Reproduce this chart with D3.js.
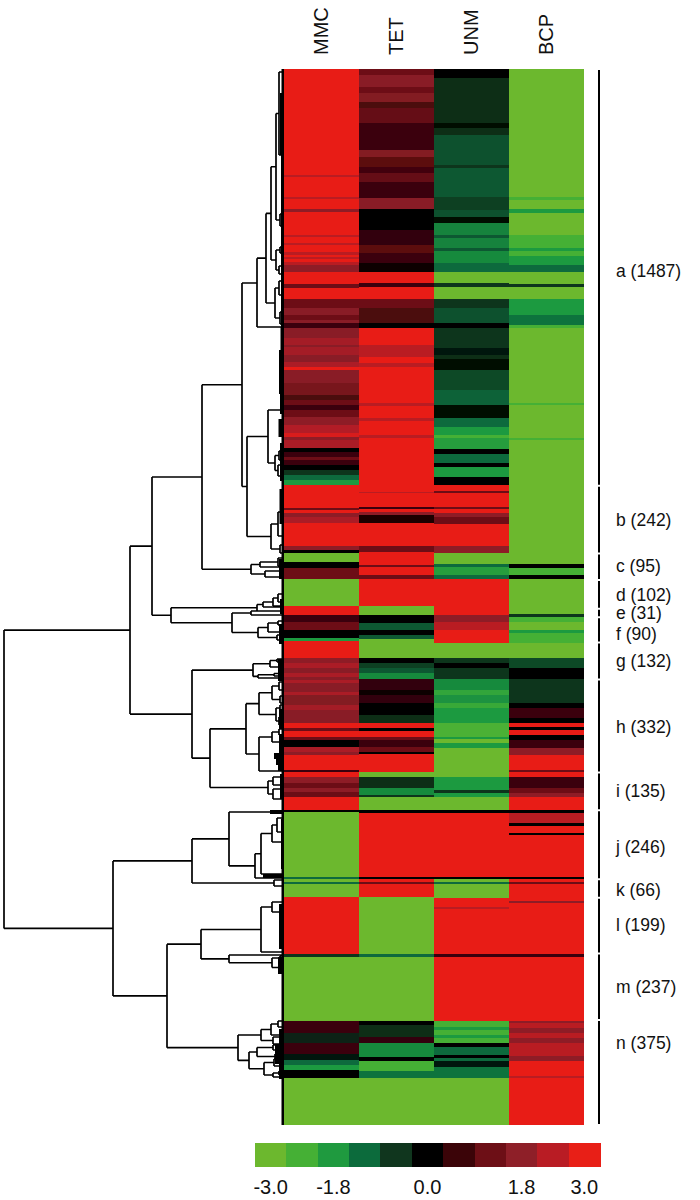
<!DOCTYPE html>
<html>
<head>
<meta charset="utf-8">
<style>
html, body { margin: 0; padding: 0; background: #fff; }
svg { display: block; }
text { font-family: "Liberation Sans", Arial, sans-serif; fill: #111; }
.axis .domain { display: none; }
</style>
</head>
<body>
<svg width="700" height="1200"></svg>
<script src="https://d3js.org/d3.v7.min.js"></script>
<script>
var samples = ["MMC", "TET", "UNM", "BCP"];

// heatmap columns, run length coded: [last row of the run, log ratio]
var mmcRuns = [[106,3],[108,2.4],[128,3],[130,2.4],[140,3],[143,1.8],[166,3],[168,2.4],[174,3],[176,2.4],[183,3],[186,2.4],[188,3],[190,2.4],[193,3],[196,2.4],[203,1.8],[215,3],[219,1.2],[230,3],[239,1.2],[246,1.7],[251,1.2],[254,1.7],[259,0.6],[269,1.7],[276,2.1],[278,1.7],[286,2.1],[293,1.7],[298,2.2],[301,3],[314,1.7],[326,1.4],[331,0.8],[336,1.2],[341,0.6],[348,1.2],[356,1.8],[364,2.3],[368,2.8],[371,1.8],[379,2.2],[383,0],[388,0.6],[391,1.2],[396,0.6],[401,0],[406,-0.6],[411,-1.2],[416,-1.8],[439,3],[441,1.2],[444,3],[448,1.8],[454,2.2],[477,3],[481,1.8],[484,0],[493,-3],[499,0],[510,1.2],[537,-3],[546,3],[553,0.6],[561,1.2],[569,0],[572,-1.8],[589,3],[594,1.8],[599,2.2],[604,1.7],[608,2.2],[611,1.7],[614,2.2],[623,1.7],[626,2.2],[636,1.6],[641,2.1],[654,1.7],[659,3],[662,1.2],[668,3],[671,1.2],[678,0],[683,2.2],[686,1.8],[701,3],[703,0.6],[708,3],[714,1.8],[719,1.2],[723,1.8],[728,1.2],[741,3],[743,0],[808,-3],[810,-1.2],[813,-3],[815,-1.2],[828,-3],[885,3],[888,-0.6],[952,-3],[964,0.6],[974,-0.4],[985,0.6],[991,-0.2],[996,-1.2],[1001,-1.8],[1009,0],[1056,-3]];
var tetRuns = [[6,1.2],[18,1.7],[24,1.2],[33,1.6],[39,0.8],[54,1.1],[81,0.6],[88,1.6],[98,1.0],[104,0.7],[113,1.1],[129,0.6],[140,1.7],[161,0],[176,0.5],[184,1.0],[194,0.6],[203,0.1],[214,3],[218,0.6],[230,3],[239,1.2],[254,0.8],[259,0],[276,3],[288,2.4],[294,3],[298,2.4],[334,3],[337,2.4],[349,3],[352,2.4],[366,3],[369,2.4],[423,3],[424,2.4],[438,3],[440,0.6],[443,3],[446,1.8],[454,0.3],[477,3],[483,1.2],[496,3],[498,1.2],[506,3],[510,1.2],[537,3],[546,-3],[554,0],[561,-1.0],[566,0],[570,-1.0],[589,-3],[594,0],[599,-0.7],[604,-1.0],[610,-1.6],[621,0.5],[626,0.1],[634,0.5],[646,0],[654,-0.5],[659,3],[662,0],[668,3],[671,1.2],[678,0.6],[683,1.2],[685,0],[703,3],[708,-3],[719,-0.5],[726,-1.6],[728,-0.6],[741,-3],[744,0],[808,3],[810,0],[813,3],[815,1.2],[828,3],[885,-3],[888,-1.2],[952,-3],[956,0],[968,-0.5],[974,0.5],[988,-1.6],[992,0],[1002,-2.4],[1009,-1.3],[1056,-3]];
var unmRuns = [[9,0],[54,-0.5],[59,-0.1],[66,-0.5],[96,-0.9],[99,-0.6],[128,-1.0],[141,-0.7],[148,-0.9],[154,-0.1],[166,-1.5],[169,-1.0],[179,-1.5],[182,-1.0],[194,-1.6],[203,-1.2],[214,-3],[218,-0.6],[230,-3],[239,-0.6],[254,-0.9],[259,0],[279,-0.6],[286,-0.2],[290,-0.5],[301,-0.1],[321,-0.8],[336,-1.1],[349,-0.1],[358,-1.2],[366,-1.8],[369,-2.4],[380,-1.9],[385,0],[394,-1.2],[398,0],[408,-1.8],[416,0],[422,3],[424,1.2],[438,3],[440,1.2],[444,3],[448,1.8],[455,1.2],[477,3],[484,1.8],[495,-3],[498,-1.2],[506,-1.9],[510,-1.2],[546,3],[553,1.8],[561,2.4],[574,3],[589,-3],[594,-0.6],[599,0],[610,-0.6],[621,-1.6],[626,-2.1],[634,-1.7],[639,-2.2],[654,-1.8],[668,-2.5],[670,-1.8],[674,-3],[679,-1.8],[708,-3],[721,-1.8],[724,-0.6],[728,-1.8],[741,-3],[744,0],[808,3],[810,0],[813,-3],[815,-1.2],[829,-3],[838,3],[840,2.4],[885,3],[888,0.6],[952,3],[958,-2.4],[961,-1.8],[966,-2.4],[969,-1.8],[974,-2.4],[978,0],[986,-1.2],[989,0],[992,-1.2],[998,-0.2],[1009,-1.3],[1056,-3]];
var bcpRuns = [[128,-3],[131,-2.4],[140,-3],[144,-1.8],[166,-3],[179,-2.4],[182,-1.8],[187,-2.4],[196,-1.8],[203,-1.2],[215,-3],[218,-0.6],[230,-3],[246,-1.8],[256,-1.3],[259,-2.4],[334,-3],[336,-2.4],[369,-3],[371,-2.4],[495,-3],[499,0],[506,-2.4],[510,0],[545,-3],[548,-0.6],[553,-2.4],[561,-3],[564,-1.8],[574,-2.4],[589,-3],[599,-0.8],[610,0],[634,-0.6],[639,0],[649,0.6],[654,0],[658,3],[661,0],[666,3],[671,0],[679,0.6],[686,1.8],[701,3],[703,1.2],[708,3],[719,0.6],[724,1.2],[728,1.8],[741,3],[744,0],[754,2.4],[757,0],[764,3],[766,0],[808,3],[810,0],[813,3],[815,1.2],[832,3],[834,1.8],[885,3],[888,0.6],[952,3],[954,1.8],[959,2.4],[964,1.8],[969,2.4],[974,1.8],[979,2.4],[987,2.4],[992,1.8],[1007,3],[1009,2.4],[1056,3]];
var sampleRuns = [mmcRuns, tetRuns, unmRuns, bcpRuns];
var totalRows = 1056;

var clusterNames = ["a","b","c","d","e","f","g","h","i","j","k","l","m","n"];
var clusterCounts = [1487,242,95,102,31,90,132,332,135,246,66,199,237,375];
// row each cluster label sits at (not always the middle of the cluster)
var clusterLabelRows = [202,451,497,526,544,565,592,658,722,778,821,856,918,974];

var levels = [-3,-2.4,-1.8,-1.2,-0.6,0,0.6,1.2,1.8,2.4,3];
var levelColors = ["#6cb82e","#45b035","#1f9a3f","#0c6b3c","#10361e","#000000","#3b0408","#6d0f16","#8e1f28","#b91c24","#e81f17"];
var legendTicks = {"-3":"-3.0","-1.8":"-1.8","0":"0.0","1.8":"1.8","3":"3.0"};

// dendrogram: [merge distance, child, child, optional row of the node],
// a plain number is a leaf row
var treeTop = [26,
  [17,
    [12,
      [7, [4,3,86], [3,145,157]],
      [7, [3,178,184], [4,197,205]]],
    [8, [4,212,226], [3,243,255]]],
  258, 214];
var treeMid = [36,
  [15, 341, [8, [4,382,391], [5,396,407]]],
  [12, [5,443,467], [3,476,484]]];
var treeC = [32, [23, [5,489,497], 498], [18,502,508]];
var treeDF = [112,
  [26, [20, [10, [5,525,533], 537], 538], 542],
  [51, [32,542,546], [25, [15, [5,552,556], 563], [6,566,571]]]];
var treeG = [30, [13, [6,590,593], 598], [25, [9, [4,603,606], 607], 609]];
var treeHI = [73,
  [37,
    [24, [11, [4,613,621], [3,627,634]], [7, [3,636,642], [4,648,656]]],
    [24, [11, [4,660,666], [3,670,676]], 702]],
  [15, [10,708,716], [10,720,730]]];
var treeJK = [91,
  [54, 743, [28, [22, [11, [6,749,763], 773], 805], 809]],
  [9,811,817]];
var treeLM = [82,
  [22, [11,833,843], 883],
  [54, 886, [11, [3,887,891], [4,895,902]]]];
var treeN = [45,
  [22, [12, [5,952,958], 966], [10,968,975]],
  [34, [26, [10,976,981], [8,985,990]], [19, [9,990,997], [10, [4,1002,1006], 1008]]]];

var tree = [279,
  [153,
    [131, [81, [41, treeTop, treeMid], treeC], treeDF],
    [91, treeG, treeHI]],
  [170,
    treeJK,
    [116, treeLM, treeN]]];

// stretches too dense to draw leaf by leaf: [first row, last row, depth]
var denseClades = [[0,1056,1.5],[24,86,3],[86,258,2],[258,300,2.5],[281,325,4],[325,345,3],[350,368,4.5],[374,412,3],[420,455,3.5],[490,510,4],[530,545,3],[555,575,4],[590,612,5],[640,660,4],[665,684,4],[684,690,9],[690,696,7],[696,702,5],[705,730,3],[741,745,13],[750,800,2],[805,809,20],[835,880,4],[888,905,5],[960,975,4],[975,995,8],[995,1010,4]];

var svg = d3.select("svg");

var x = d3.scaleBand().domain(samples).range([284, 584]);
var y = d3.scaleLinear().domain([0, totalRows]).range([69, 1125]);
var yGene = d3.scaleLinear().domain([0, d3.sum(clusterCounts)]).range([69, 1125]);
var xDist = d3.scaleLinear().domain([0, 279]).range([283, 4]);
var color = d3.scaleLinear().domain(levels).range(levelColors);

// the rows are much thinner than a pixel in the print, soften them a little
var soft = svg.append("defs").append("filter")
  .attr("id", "soft")
  .attr("filterUnits", "userSpaceOnUse")
  .attr("x", 284).attr("y", 69).attr("width", 300).attr("height", 1056);
soft.append("feGaussianBlur")
  .attr("stdDeviation", "0.3 0.7")
  .attr("edgeMode", "duplicate");

// heatmap
svg.append("g").attr("shape-rendering", "crispEdges").attr("filter", "url(#soft)")
  .selectAll("g")
  .data(samples)
  .enter().append("g")
  .each(function(name, i) {
    var start = 0;
    d3.select(this).selectAll("rect")
      .data(sampleRuns[i].map(function(r) {
        var o = {from: start, to: r[0], value: r[1]};
        start = r[0];
        return o;
      }))
      .enter().append("rect")
      .attr("x", x(name))
      .attr("width", x.bandwidth())
      .attr("y", function(d) { return y(d.from); })
      .attr("height", function(d) { return y(d.to) - y(d.from); })
      .attr("fill", function(d) { return color(d.value); });
  });

svg.append("g")
  .selectAll("text")
  .data(samples)
  .enter().append("text")
  .attr("transform", function(d) {
    return "translate(" + (x(d) + x.bandwidth() / 2 + 6.5) + ",55) rotate(-90)";
  })
  .attr("font-size", 20)
  .text(function(d) { return d; });

// dendrogram
var root = d3.hierarchy(tree, function(d) { return Array.isArray(d) ? d.slice(1, 3) : null; });
root.eachAfter(function(n) {
  n.dist = Array.isArray(n.data) ? n.data[0] : 0;
  if (!n.children) n.row = n.data;
  else if (n.data[3] !== undefined) n.row = n.data[3];
  else n.row = d3.mean(n.children, function(c) { return c.row; });
});

var p = d3.path();
root.each(function(n) {
  if (!n.children) return;
  p.moveTo(xDist(n.dist), y(n.children[0].row));
  p.lineTo(xDist(n.dist), y(n.children[1].row));
  n.children.forEach(function(c) {
    p.moveTo(xDist(n.dist), y(c.row));
    p.lineTo(xDist(c.dist), y(c.row));
  });
});
svg.append("path")
  .attr("d", p.toString())
  .attr("fill", "none")
  .attr("stroke", "#000")
  .attr("stroke-width", 1.7);

svg.append("g")
  .selectAll("rect")
  .data(denseClades)
  .enter().append("rect")
  .attr("x", function(d) { return xDist(d[2]); })
  .attr("width", function(d) { return xDist(0) - xDist(d[2]) + 1; })
  .attr("y", function(d) { return y(d[0]); })
  .attr("height", function(d) { return y(d[1]) - y(d[0]); })
  .attr("fill", "#000");

// cluster brackets
var clusters = [], sofar = 0;
clusterNames.forEach(function(name, i) {
  clusters.push({name: name, count: clusterCounts[i], from: sofar, to: sofar + clusterCounts[i], labelRow: clusterLabelRows[i]});
  sofar += clusterCounts[i];
});

svg.append("g")
  .selectAll("line")
  .data(clusters)
  .enter().append("line")
  .attr("x1", 599).attr("x2", 599)
  .attr("y1", function(d) { return yGene(d.from) + 1; })
  .attr("y2", function(d) { return yGene(d.to) - 1; })
  .attr("stroke", "#000")
  .attr("stroke-width", 2);

svg.append("g")
  .selectAll("text")
  .data(clusters)
  .enter().append("text")
  .attr("x", 616)
  .attr("y", function(d) { return y(d.labelRow); })
  .attr("dy", "0.35em")
  .attr("font-size", 17.5)
  .text(function(d) { return d.name + " (" + d.count + ")"; });

// colour legend
var xLegend = d3.scaleBand().domain(levels).range([255, 600]);

svg.append("g").attr("shape-rendering", "crispEdges")
  .selectAll("rect")
  .data(levels)
  .enter().append("rect")
  .attr("x", function(d) { return xLegend(d); })
  .attr("y", 1143)
  .attr("width", xLegend.bandwidth() + 0.5)
  .attr("height", 24)
  .attr("fill", function(d) { return color(d); });

svg.append("g")
  .attr("class", "axis")
  .attr("transform", "translate(0,1167)")
  .call(d3.axisBottom(xLegend)
    .tickValues(Object.keys(legendTicks).map(Number))
    .tickSize(0)
    .tickPadding(13)
    .tickFormat(function(d) { return legendTicks[d]; }))
  .selectAll("text")
  .attr("font-size", 20)
  .attr("font-family", "Liberation Sans");
</script>
</body>
</html>
